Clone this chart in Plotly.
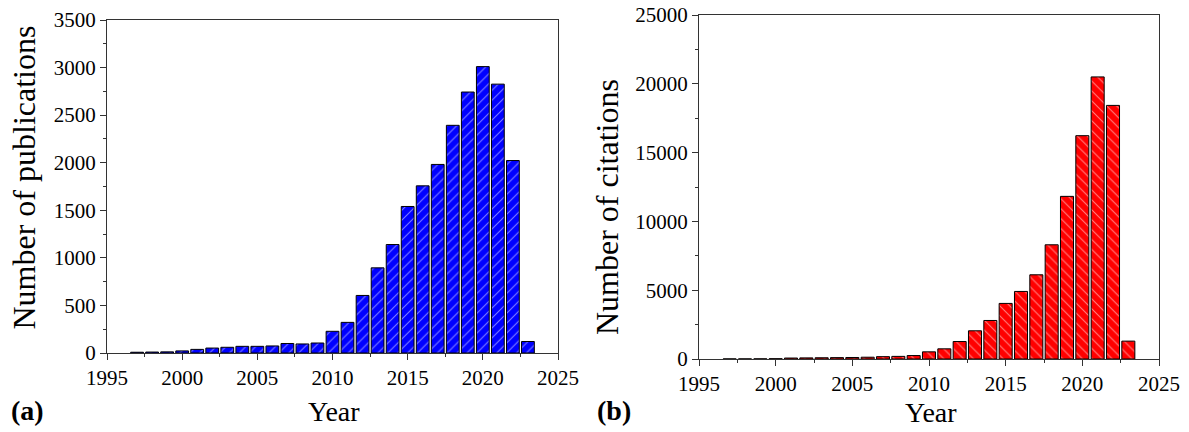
import plotly.graph_objects as go

# Yearly bibliometric counts
years = list(range(1997, 2024))
publications = [8, 10, 12, 22, 38, 52, 60, 70, 70, 74, 100, 95, 105, 228, 322,
                605, 895, 1140, 1540, 1757, 1982, 2393, 2743, 3010, 2826, 2023, 121]
citations = [5, 5, 10, 20, 70, 80, 90, 100, 110, 130, 170, 190, 250, 520, 740,
             1270, 2050, 2800, 4040, 4910, 6120, 8300, 11820, 16230, 20500, 18430, 1300]

year_ticks = [1995, 2000, 2005, 2010, 2015, 2020, 2025]

W, H = 1189, 432
FONT = "Liberation Serif"
AXIS_COLOR = "#333333"


def px_x(p):
    return p / W


def px_y(p):
    return 1 - p / H


fig = go.Figure()

fig.add_trace(go.Bar(
    x=years, y=publications, width=0.85,
    marker=dict(color="#0000ff", line=dict(color="black", width=1),
                pattern=dict(shape="/", fgcolor="white", bgcolor="#0000ff",
                             size=7, solidity=0.15)),
    xaxis="x", yaxis="y", showlegend=False,
))
fig.add_trace(go.Bar(
    x=years, y=citations, width=0.85,
    marker=dict(color="#ff0000", line=dict(color="black", width=1),
                pattern=dict(shape="\\", fgcolor="white", bgcolor="#ff0000",
                             size=7, solidity=0.15)),
    xaxis="x2", yaxis="y2", showlegend=False,
))

fig.update_layout(
    width=W, height=H,
    margin=dict(l=0, r=0, t=0, b=0),
    font=dict(family=FONT, size=21, color="black"),
    paper_bgcolor="white", plot_bgcolor="white",
    xaxis=dict(domain=[px_x(107), px_x(558)], anchor="y"),
    yaxis=dict(domain=[px_y(353), px_y(20)], anchor="x", range=[0, 3500], dtick=500),
    xaxis2=dict(domain=[px_x(699), px_x(1159)], anchor="y2"),
    yaxis2=dict(domain=[px_y(359), px_y(15)], anchor="x2", range=[0, 25000], dtick=5000),
)

fig.update_xaxes(
    automargin=False,
    range=[1995, 2025], tickmode="array", tickvals=year_ticks,
    ticks="outside", ticklen=6, tickcolor=AXIS_COLOR,
    showline=True, linecolor=AXIS_COLOR, linewidth=1, mirror=True,
    showgrid=False, zeroline=False,
    tickfont_family=FONT, tickfont_size=21, tickfont_color="black",
    minor_ticks="outside", minor_ticklen=3, minor_dtick=2.5, minor_tick0=1995,
    minor_tickcolor=AXIS_COLOR,
)
fig.update_yaxes(
    automargin=False,
    ticks="outside", ticklen=6, tickcolor=AXIS_COLOR,
    showline=True, linecolor=AXIS_COLOR, linewidth=1, mirror=True,
    showgrid=False, zeroline=False, tickformat="d",
    tickfont_family=FONT, tickfont_size=21, tickfont_color="black",
    minor_ticks="outside", minor_ticklen=3, minor_tickcolor=AXIS_COLOR,
)
fig.layout.yaxis.minor.dtick = 250
fig.layout.yaxis2.minor.dtick = 2500

labels = [
    dict(text="Number of publications", x=23.5, y=178, size=32, angle=-90),
    dict(text="Number of citations", x=607, y=207, size=32, angle=-90),
    dict(text="Year", x=334, y=411, size=28, angle=0),
    dict(text="Year", x=931, y=412, size=28, angle=0),
    dict(text="<b>(a)</b>", x=27.5, y=410, size=28, angle=0),
    dict(text="<b>(b)</b>", x=614, y=410, size=28, angle=0),
]
for lab in labels:
    fig.add_annotation(
        text=lab["text"], xref="paper", yref="paper",
        x=px_x(lab["x"]), y=px_y(lab["y"]), xanchor="center", yanchor="middle",
        textangle=lab["angle"], showarrow=False,
        font=dict(family=FONT, size=lab["size"], color="black"),
    )

fig.write_html("out.html")
